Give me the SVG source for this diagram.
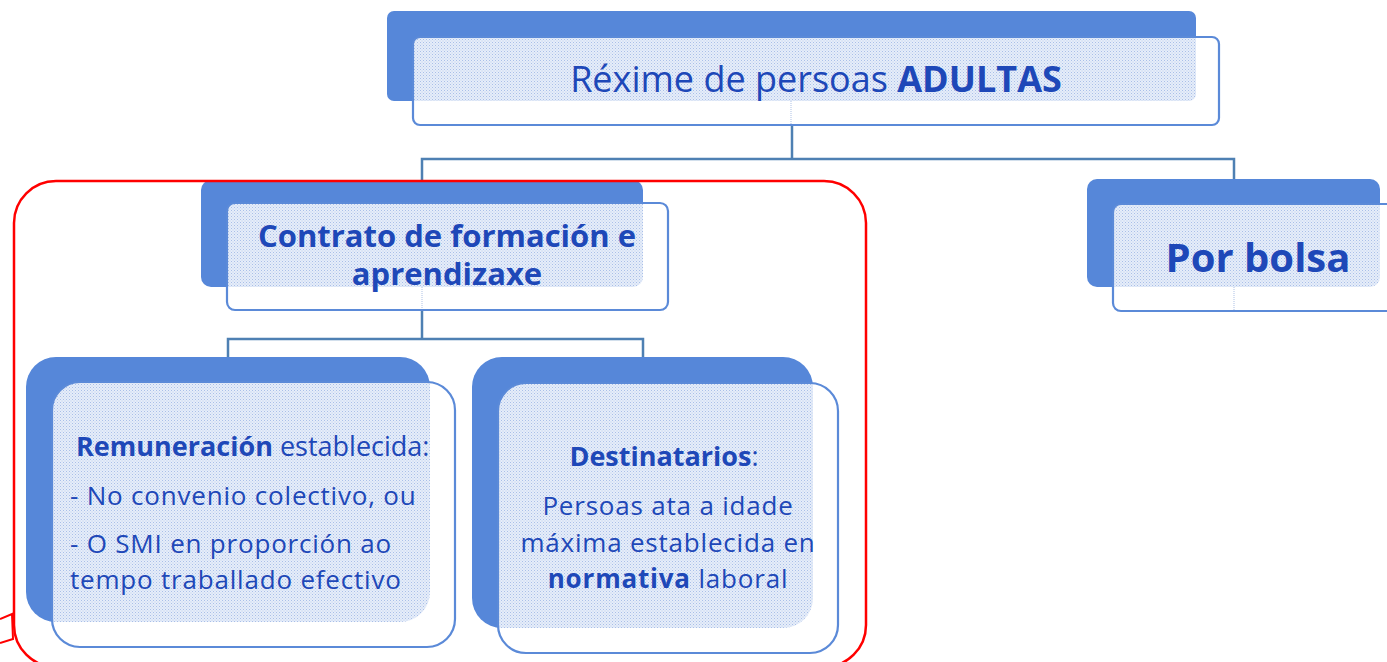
<svg xmlns="http://www.w3.org/2000/svg" width="1387" height="662" viewBox="0 0 1387 662">
<style>
.back{fill:#5687d9}
.front{fill:#ffffff}
.fstroke{fill:none;stroke:#5b8ad8;stroke-width:2.2}
.tex{fill:url(#dots)}
.conn{fill:none;stroke:#4e80b3;stroke-width:2.5}
.t{font-family:"Open Sans","Liberation Sans",sans-serif;fill:#1e48b8}
.b{font-weight:bold}
.s{font-size:26px;letter-spacing:0.8px}
.faint{stroke:#c9d6ee;stroke-width:1.5;stroke-dasharray:1 1}
</style>
<defs>
<pattern id="dots" width="3" height="3" patternUnits="userSpaceOnUse">
<rect width="3" height="3" fill="#e6edf9"/>
<rect x="0" y="0" width="1" height="1" fill="#a9bfe8"/>
<rect x="1.5" y="1.5" width="1" height="1" fill="#bccdee"/>
</pattern>
<clipPath id="cTop"><rect x="387" y="11" width="809" height="90" rx="7"/></clipPath>
<clipPath id="cCon"><rect x="201" y="180" width="442" height="107" rx="10"/></clipPath>
<clipPath id="cBol"><rect x="1087" y="179" width="293" height="108" rx="10"/></clipPath>
<clipPath id="cRem"><rect x="26" y="357" width="404" height="265" rx="30"/></clipPath>
<clipPath id="cDes"><rect x="472" y="357" width="341" height="271" rx="30"/></clipPath>
</defs>

<g id="connectors">
<polyline class="conn" points="792,125 792,159"/>
<polyline class="conn" points="422,181 422,159 1234,159 1234,180"/>
<polyline class="conn" points="422,310 422,339"/>
<polyline class="conn" points="228,358 228,339 643,339 643,358"/>
</g>

<g id="node-top">
<rect class="back" x="387" y="11" width="809" height="90" rx="7"/>
<rect class="front" x="413" y="37" width="806" height="88" rx="7"/>
<rect class="tex" x="413" y="37" width="806" height="88" rx="7" clip-path="url(#cTop)"/>
<line class="faint" x1="791" y1="101" x2="791" y2="124"/>
<rect class="fstroke" x="413" y="37" width="806" height="88" rx="7"/>
<text class="t" x="816" y="92" font-size="36" text-anchor="middle">Réxime de persoas <tspan class="b">ADULTAS</tspan></text>
</g>

<g id="node-contrato">
<rect class="back" x="201" y="180" width="442" height="107" rx="10"/>
<rect class="front" x="227" y="203" width="441" height="107" rx="8"/>
<rect class="tex" x="227" y="203" width="441" height="107" rx="8" clip-path="url(#cCon)"/>
<line class="faint" x1="422" y1="287" x2="422" y2="309"/>
<rect class="fstroke" x="227" y="203" width="441" height="107" rx="8"/>
<text class="t b" x="447" y="247" font-size="31" text-anchor="middle">Contrato de formación e</text>
<text class="t b" x="447" y="285" font-size="31" text-anchor="middle">aprendizaxe</text>
</g>

<g id="node-bolsa">
<rect class="back" x="1087" y="179" width="293" height="108" rx="10"/>
<rect class="front" x="1113" y="204" width="300" height="107" rx="8"/>
<rect class="tex" x="1113" y="204" width="300" height="107" rx="8" clip-path="url(#cBol)"/>
<line class="faint" x1="1234" y1="287" x2="1234" y2="310"/>
<rect class="fstroke" x="1113" y="204" width="300" height="107" rx="8"/>
<text class="t b" x="1258" y="272" font-size="40" text-anchor="middle">Por bolsa</text>
</g>

<g id="node-remuneracion">
<rect class="back" x="26" y="357" width="404" height="265" rx="30"/>
<rect class="front" x="52" y="382" width="403" height="265" rx="28"/>
<rect class="tex" x="52" y="382" width="403" height="265" rx="28" clip-path="url(#cRem)"/>
<rect class="fstroke" x="52" y="382" width="403" height="265" rx="28"/>
<text class="t" x="76" y="456" font-size="27"><tspan class="b">Remuneración</tspan> establecida:</text>
<text class="t s" x="70" y="505">- No convenio colectivo, ou</text>
<text class="t s" x="70" y="553">- O SMI en proporción ao</text>
<text class="t s" x="70" y="589">tempo traballado efectivo</text>
</g>

<g id="node-destinatarios">
<rect class="back" x="472" y="357" width="341" height="271" rx="30"/>
<rect class="front" x="498" y="383" width="340" height="270" rx="28"/>
<rect class="tex" x="498" y="383" width="340" height="270" rx="28" clip-path="url(#cDes)"/>
<rect class="fstroke" x="498" y="383" width="340" height="270" rx="28"/>
<text class="t" x="664" y="466" font-size="27" text-anchor="middle"><tspan class="b">Destinatarios</tspan>:</text>
<text class="t s" x="668" y="515" text-anchor="middle">Persoas ata a idade</text>
<text class="t s" x="668" y="552" text-anchor="middle">máxima establecida en</text>
<text class="t s" x="668" y="588" text-anchor="middle"><tspan class="b">normativa</tspan> laboral</text>
</g>

<g id="highlight">
<rect x="14" y="181" width="852" height="486" rx="42" fill="none" stroke="#ff0000" stroke-width="2.5"/>
<polyline points="0,619 12,614 13,639 0,643" fill="none" stroke="#ff0000" stroke-width="2"/>
</g>
</svg>
